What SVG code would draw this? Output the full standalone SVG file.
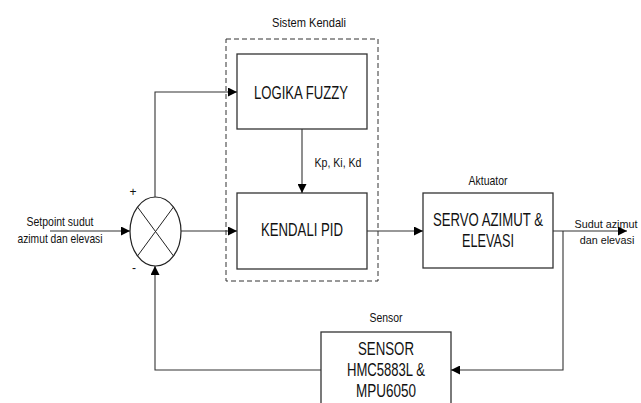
<svg xmlns="http://www.w3.org/2000/svg" width="641" height="403" viewBox="0 0 641 403">
<defs>
<style>
.box{fill:#fff;stroke:#333;stroke-width:1.3}
.ln{fill:none;stroke:#333;stroke-width:1.1}
.big{font-family:"Liberation Sans Narrow","Arial Narrow","Liberation Sans",sans-serif;font-size:17.5px;fill:#111;text-anchor:middle}
.sm{font-family:"Liberation Sans Narrow","Arial Narrow","Liberation Sans",sans-serif;font-size:13.5px;fill:#111;text-anchor:middle}
.out{font-family:"Liberation Sans Narrow","Arial Narrow","Liberation Sans",sans-serif;font-size:10.8px;fill:#111;text-anchor:middle}
</style>
<marker id="ah" viewBox="0 0 10 10" refX="10" refY="5" markerWidth="9" markerHeight="9" markerUnits="userSpaceOnUse" orient="auto">
<path d="M0,0 L10,5 L0,10 Z" fill="#000"/>
</marker>
</defs>
<rect width="641" height="403" fill="#fff"/>

<g id="sistem-kendali">
<rect x="226" y="39" width="152" height="242" fill="none" stroke="#333" stroke-width="1" stroke-dasharray="5,3"/>
<text class="sm" x="309" y="27" textLength="74" lengthAdjust="spacingAndGlyphs">Sistem Kendali</text>
</g>

<g id="logika-fuzzy">
<rect class="box" x="237" y="54" width="130" height="75"/>
<text class="big" x="301" y="99" textLength="94" lengthAdjust="spacingAndGlyphs">LOGIKA FUZZY</text>
</g>

<g id="kendali-pid">
<rect class="box" x="237" y="193" width="130" height="76"/>
<text class="big" x="302" y="236" textLength="82" lengthAdjust="spacingAndGlyphs">KENDALI PID</text>
</g>

<g id="servo">
<rect class="box" x="423" y="193" width="130" height="75"/>
<text class="sm" x="488" y="185" textLength="39" lengthAdjust="spacingAndGlyphs">Aktuator</text>
<text class="big" x="488" y="226" textLength="110" lengthAdjust="spacingAndGlyphs">SERVO AZIMUT &amp;</text>
<text class="big" x="488" y="247" textLength="52" lengthAdjust="spacingAndGlyphs">ELEVASI</text>
</g>

<g id="sensor">
<rect class="box" x="321" y="332" width="130" height="90"/>
<text class="sm" x="386" y="322" textLength="33" lengthAdjust="spacingAndGlyphs">Sensor</text>
<text class="big" x="386" y="355" textLength="56" lengthAdjust="spacingAndGlyphs">SENSOR</text>
<text class="big" x="386" y="376" textLength="78" lengthAdjust="spacingAndGlyphs">HMC5883L &amp;</text>
<text class="big" x="386" y="397" textLength="60" lengthAdjust="spacingAndGlyphs">MPU6050</text>
</g>

<g id="summing-junction">
<ellipse cx="155.5" cy="231.5" rx="25.5" ry="34.5" fill="#fff" stroke="#222" stroke-width="1.2"/>
<line x1="137.5" y1="207" x2="173.5" y2="256" stroke="#222" stroke-width="1"/>
<line x1="173.5" y1="207" x2="137.5" y2="256" stroke="#222" stroke-width="1"/>
<text class="sm" x="133" y="196" style="font-size:12px">+</text>
<text class="sm" x="134" y="272" style="font-size:12px">-</text>
</g>

<g id="labels">
<text class="sm" x="60" y="226" textLength="67" lengthAdjust="spacingAndGlyphs">Setpoint sudut</text>
<text class="sm" x="60" y="243" textLength="85" lengthAdjust="spacingAndGlyphs">azimut dan elevasi</text>
<text class="sm" x="338" y="167" textLength="47" lengthAdjust="spacingAndGlyphs">Kp, Ki, Kd</text>
<text class="out" x="606" y="228">Sudut azimut</text>
<text class="out" x="607" y="244">dan elevasi</text>
</g>

<g id="connectors">
<line class="ln" x1="50" y1="231" x2="130" y2="231" marker-end="url(#ah)"/>
<polyline class="ln" points="155,197 155,92 237,92" marker-end="url(#ah)"/>
<line class="ln" x1="302" y1="129" x2="302" y2="193" marker-end="url(#ah)"/>
<line class="ln" x1="181" y1="231" x2="237" y2="231" marker-end="url(#ah)"/>
<line class="ln" x1="367" y1="231" x2="423" y2="231" marker-end="url(#ah)"/>
<line class="ln" x1="553" y1="231" x2="627" y2="231" marker-end="url(#ah)"/>
<polyline class="ln" points="563,231 563,370 451,370" marker-end="url(#ah)"/>
<polyline class="ln" points="321,370 155,370 155,266" marker-end="url(#ah)"/>
</g>
</svg>
